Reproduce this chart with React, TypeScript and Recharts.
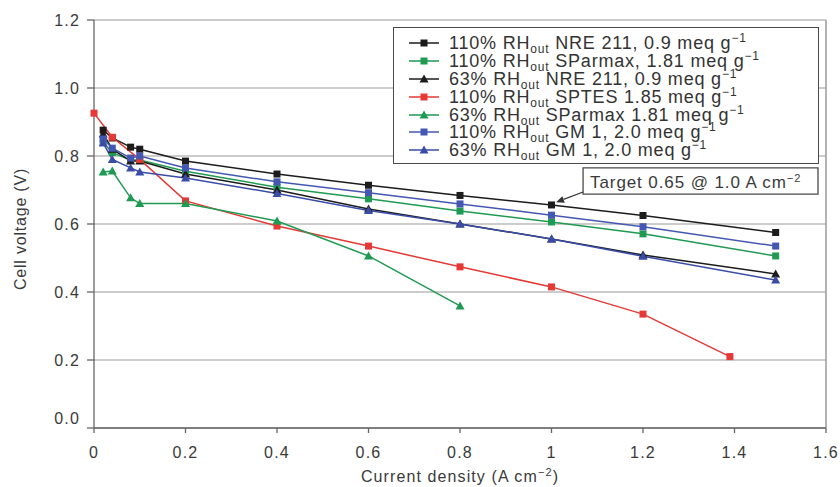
import React from "react";
import {
  LineChart,
  Line,
  XAxis,
  YAxis,
  CartesianGrid,
  Legend,
  ReferenceArea,
  ReferenceLine,
} from "recharts";

// current density (A cm-2) / cell voltage (V)
const nre110 = [
  { x: 0.02, y: 0.876 }, { x: 0.04, y: 0.853 }, { x: 0.08, y: 0.826 }, { x: 0.1, y: 0.82 },
  { x: 0.2, y: 0.785 }, { x: 0.4, y: 0.747 }, { x: 0.6, y: 0.714 }, { x: 0.8, y: 0.684 },
  { x: 1.0, y: 0.656 }, { x: 1.2, y: 0.625 }, { x: 1.49, y: 0.575 },
];
const sparmax110 = [
  { x: 0.02, y: 0.84 }, { x: 0.04, y: 0.81 }, { x: 0.08, y: 0.788 }, { x: 0.1, y: 0.788 },
  { x: 0.2, y: 0.755 }, { x: 0.4, y: 0.708 }, { x: 0.6, y: 0.674 }, { x: 0.8, y: 0.638 },
  { x: 1.0, y: 0.606 }, { x: 1.2, y: 0.571 }, { x: 1.49, y: 0.506 },
];
const nre63 = [
  { x: 0.02, y: 0.865 }, { x: 0.04, y: 0.82 }, { x: 0.08, y: 0.785 }, { x: 0.1, y: 0.785 },
  { x: 0.2, y: 0.747 }, { x: 0.4, y: 0.7 }, { x: 0.6, y: 0.644 }, { x: 0.8, y: 0.6 },
  { x: 1.0, y: 0.556 }, { x: 1.2, y: 0.509 }, { x: 1.49, y: 0.453 },
];
const sptes110 = [
  { x: 0.0, y: 0.926 }, { x: 0.04, y: 0.855 }, { x: 0.1, y: 0.79 }, { x: 0.2, y: 0.668 },
  { x: 0.4, y: 0.594 }, { x: 0.6, y: 0.535 }, { x: 0.8, y: 0.474 }, { x: 1.0, y: 0.415 },
  { x: 1.2, y: 0.335 }, { x: 1.39, y: 0.21 },
];
const sparmax63 = [
  { x: 0.02, y: 0.753 }, { x: 0.04, y: 0.756 }, { x: 0.08, y: 0.677 }, { x: 0.1, y: 0.66 },
  { x: 0.2, y: 0.66 }, { x: 0.4, y: 0.609 }, { x: 0.6, y: 0.506 }, { x: 0.8, y: 0.359 },
];
const gm110 = [
  { x: 0.02, y: 0.85 }, { x: 0.04, y: 0.823 }, { x: 0.08, y: 0.794 }, { x: 0.1, y: 0.8 },
  { x: 0.2, y: 0.765 }, { x: 0.4, y: 0.724 }, { x: 0.6, y: 0.692 }, { x: 0.8, y: 0.659 },
  { x: 1.0, y: 0.626 }, { x: 1.2, y: 0.592 }, { x: 1.49, y: 0.535 },
];
const gm63 = [
  { x: 0.02, y: 0.838 }, { x: 0.04, y: 0.79 }, { x: 0.08, y: 0.765 }, { x: 0.1, y: 0.753 },
  { x: 0.2, y: 0.735 }, { x: 0.4, y: 0.69 }, { x: 0.6, y: 0.64 }, { x: 0.8, y: 0.6 },
  { x: 1.0, y: 0.556 }, { x: 1.2, y: 0.505 }, { x: 1.49, y: 0.435 },
];

const xTicks = [0, 0.2, 0.4, 0.6, 0.8, 1, 1.2, 1.4, 1.6];
const yTicks = [0, 0.2, 0.4, 0.6, 0.8, 1.0, 1.2];

const series = [
  { key: "nre110", data: nre110, color: "#1c1c1c", shape: "square", rh: "110%", rest: " NRE 211, 0.9 meq g" },
  { key: "sparmax110", data: sparmax110, color: "#1f9a52", shape: "square", rh: "110%", rest: " SParmax, 1.81 meq g" },
  { key: "nre63", data: nre63, color: "#1c1c1c", shape: "triangle", rh: "63%", rest: " NRE 211, 0.9 meq g" },
  { key: "sptes110", data: sptes110, color: "#e53935", shape: "square", rh: "110%", rest: " SPTES 1.85 meq g" },
  { key: "sparmax63", data: sparmax63, color: "#1f9a52", shape: "triangle", rh: "63%", rest: " SParmax 1.81 meq g" },
  { key: "gm110", data: gm110, color: "#4457b3", shape: "square", rh: "110%", rest: " GM 1, 2.0 meq g" },
  { key: "gm63", data: gm63, color: "#3a4ca8", shape: "triangle", rh: "63%", rest: " GM 1, 2.0 meq g" },
];

const FONT = "'Liberation Sans', Arial, sans-serif";

function marker(shape: string, color: string) {
  return (props: any) => {
    const { cx, cy, index } = props;
    if (cx == null || cy == null) return <g key={index} />;
    if (shape === "square") {
      return <rect key={index} x={cx - 3.5} y={cy - 3.5} width={7} height={7} fill={color} />;
    }
    return (
      <polygon
        key={index}
        points={`${cx},${cy - 4.5} ${cx - 4.5},${cy + 3.5} ${cx + 4.5},${cy + 3.5}`}
        fill={color}
      />
    );
  };
}

function YTick(props: any) {
  const { x, y, payload } = props;
  const dy = payload.value === 0 ? -10 : 0;
  return (
    <text x={x} y={y + dy} dy="0.36em" textAnchor="end" fill="#3a3a3a" fontSize={16} letterSpacing={1.2} fontFamily={FONT}>
      {payload.value.toFixed(1)}
    </text>
  );
}

function XTick(props: any) {
  const { x, y, payload } = props;
  const v = payload.value;
  const label = v === 0 || v === 1 ? String(v) : v.toFixed(1);
  return (
    <text x={x} y={y} dy="0.71em" textAnchor="middle" fill="#3a3a3a" fontSize={16} letterSpacing={1.2} fontFamily={FONT}>
      {label}
    </text>
  );
}

function XLabel(props: any) {
  const { viewBox } = props;
  const cx = viewBox.x + viewBox.width / 2;
  return (
    <text x={cx} y={482} textAnchor="middle" fill="#3a3a3a" fontSize={16} letterSpacing={1.1} fontFamily={FONT}>
      Current density (A cm
      <tspan dy={-6} fontSize={11}>−2</tspan>
      <tspan dy={6}>)</tspan>
    </text>
  );
}

function YLabel(props: any) {
  const { viewBox } = props;
  const cy = viewBox.y + viewBox.height / 2 + 5;
  return (
    <text
      x={20}
      y={cy}
      transform={`rotate(-90 20 ${cy})`}
      textAnchor="middle"
      dy="0.36em"
      fill="#3a3a3a"
      fontSize={16}
      letterSpacing={0.8}
      fontFamily={FONT}
    >
      Cell voltage (V)
    </text>
  );
}

function TargetLabel(props: any) {
  const { viewBox } = props;
  return (
    <text
      x={viewBox.x + 7}
      y={viewBox.y + viewBox.height / 2 + 1}
      dy="0.36em"
      fill="#3a3a3a"
      fontSize={17}
      letterSpacing={0.9}
      fontFamily={FONT}
    >
      Target 0.65 @ 1.0 A cm
      <tspan dy={-6} fontSize={11}>−2</tspan>
    </text>
  );
}

function Arrow(props: any) {
  const { x1, y1, x2, y2 } = props;
  const ang = Math.atan2(y2 - y1, x2 - x1);
  const len = 8;
  const w = 3.5;
  const bx = x2 - len * Math.cos(ang);
  const by = y2 - len * Math.sin(ang);
  const px = -Math.sin(ang) * w;
  const py = Math.cos(ang) * w;
  return (
    <g>
      <line x1={x1} y1={y1} x2={bx} y2={by} stroke="#333" strokeWidth={1.2} />
      <polygon points={`${x2},${y2} ${bx + px},${by + py} ${bx - px},${by - py}`} fill="#333" />
    </g>
  );
}

function LegendBox() {
  return (
    <div
      style={{
        border: "1.5px solid #4a4a4a",
        background: "#fff",
        padding: "6px 0 6px 14px",
        fontFamily: FONT,
        fontSize: 18,
        letterSpacing: 0.8,
        color: "#333",
        boxSizing: "border-box",
        width: 426,
        height: 137,
        textAlign: "left",
      }}
    >
      {series.map((s) => (
        <div key={s.key} style={{ display: "flex", alignItems: "center", height: 17.9, whiteSpace: "nowrap", lineHeight: "18px" }}>
          <svg width={32} height={12} style={{ marginRight: 9, flex: "none" }}>
            <line x1={1} y1={6} x2={31} y2={6} stroke={s.color} strokeWidth={1.5} />
            {s.shape === "square" ? (
              <rect x={12.5} y={2.5} width={7} height={7} fill={s.color} />
            ) : (
              <polygon points="16,1.5 11.5,9.5 20.5,9.5" fill={s.color} />
            )}
          </svg>
          <span>
            {s.rh} RH<sub style={{ fontSize: 12, verticalAlign: -4, lineHeight: 0 }}>out</sub>
            {s.rest}
            <sup style={{ fontSize: 12, verticalAlign: 7, lineHeight: 0 }}>−1</sup>
          </span>
        </div>
      ))}
    </div>
  );
}

export default function App() {
  return (
    <div style={{ position: "absolute", left: 0, top: 0, width: 840, height: 487, background: "#fff" }}>
      <LineChart width={840} height={487} margin={{ top: 20, right: 14, bottom: 0, left: 0 }}>
        <CartesianGrid vertical={false} stroke="#9a9a9a" strokeWidth={1.2} />
        <XAxis
          type="number"
          dataKey="x"
          domain={[0, 1.6]}
          ticks={xTicks}
          height={59}
          tickSize={5}
          tickMargin={14}
          stroke="#666"
          strokeWidth={1.3}
          tick={<XTick />}
          label={<XLabel />}
          allowDuplicatedCategory={false}
        />
        <YAxis
          type="number"
          domain={[0, 1.2]}
          ticks={yTicks}
          width={94}
          tickSize={7}
          tickMargin={7}
          stroke="#666"
          strokeWidth={1.3}
          tick={<YTick />}
          label={<YLabel />}
        />
        <ReferenceLine x={1.6} stroke="#9a9a9a" strokeWidth={1.5} />
        {series.map((s) => (
          <Line
            key={s.key}
            data={s.data}
            dataKey="y"
            name={s.key}
            type="linear"
            stroke={s.color}
            strokeWidth={1.5}
            dot={marker(s.shape, s.color)}
            activeDot={false}
            isAnimationActive={false}
          />
        ))}
        <ReferenceArea
          x1={1.069}
          x2={1.5825}
          y1={0.688}
          y2={0.765}
          fill="#fff"
          fillOpacity={1}
          stroke="#4a4a4a"
          strokeWidth={1.3}
          label={<TargetLabel />}
        />
        <ReferenceLine
          segment={[{ x: 1.069, y: 0.694 }, { x: 1.01, y: 0.664 }]}
          shape={<Arrow />}
        />
        <Legend
          layout="vertical"
          align="center"
          verticalAlign="middle"
          content={<LegendBox />}
          wrapperStyle={{ position: "absolute", left: 393, top: 27, width: 426 }}
        />
      </LineChart>
    </div>
  );
}
